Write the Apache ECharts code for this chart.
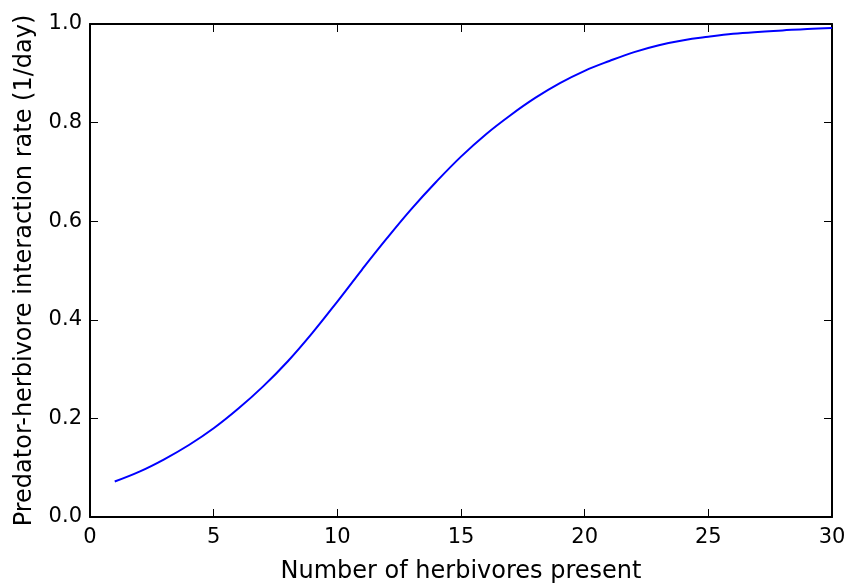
<!DOCTYPE html>
<html>
<head>
<meta charset="utf-8">
<title>Predator-herbivore interaction rate</title>
<script src="https://cdn.jsdelivr.net/npm/echarts@6/dist/echarts.min.js"></script>
<style>
	html, body { margin: 0; padding: 0; background: #fff; }
	#chart_main_id { width: 847px; height: 585px; }
</style>
</head>
<body>
<div id="chart_main_id"></div>
<script>
// x: number of herbivores
var herbivores = [1, 2, 3, 4, 5, 6, 7, 8, 9, 10, 11, 12, 13, 14, 15,
	16, 17, 18, 19, 20, 21, 22, 23, 24, 25, 26, 27, 28, 29, 30];
// y: interaction rate (1/day)
var rates = [0.072, 0.092, 0.117, 0.146, 0.180, 0.220, 0.265, 0.316, 0.374, 0.437,
	0.502, 0.565, 0.625, 0.680, 0.731, 0.776, 0.815, 0.850, 0.880, 0.905,
	0.925, 0.943, 0.957, 0.967, 0.974, 0.980, 0.984, 0.987, 0.990, 0.992];
var xTicks = [0, 5, 10, 15, 20, 25, 30];
var yTicks = [0.0, 0.2, 0.4, 0.6, 0.8, 1.0];

var xTitle = "Number of herbivores present";
var yTitle = "Predator-herbivore interaction rate (1/day)";

var fontName = "DejaVu Sans";

function buildPoints() {
	var pts = [];
	for (var i = 0; i < herbivores.length; i++) {
		pts.push([herbivores[i], rates[i]]);
	}
	return pts;
}

// 坐标轴公共设置
function frameAxis(showLabel, ticks, digits) {
	return {
		type : 'value',
		min : ticks[0],
		max : ticks[ticks.length - 1],
		interval : ticks[1] - ticks[0],
		axisLine : { show : true, onZero : false, lineStyle : { color : '#000', width : 2 } },
		axisTick : { show : true, inside : true, length : 8, lineStyle : { color : '#000', width : 1 } },
		splitLine : { show : false },
		axisLabel : {
			show : showLabel,
			color : '#000',
			fontFamily : fontName,
			fontSize : 21,
			margin : 8,
			formatter : function(v) { return v.toFixed(digits); }
		}
	};
}

function drawChart() {
	var myChart = echarts.init(document.getElementById("chart_main_id"), null, { renderer : 'canvas' });

	var xBottom = frameAxis(true, xTicks, 0);
	xBottom.position = 'bottom';
	xBottom.axisLabel.margin = 10;
	xBottom.name = xTitle;
	xBottom.nameLocation = 'middle';
	xBottom.nameGap = 43;
	xBottom.nameTextStyle = { color : '#000', fontFamily : fontName, fontSize : 24 };

	var xTop = frameAxis(false, xTicks, 0);
	xTop.position = 'top';

	var yLeft = frameAxis(true, yTicks, 1);
	yLeft.position = 'left';
	yLeft.name = yTitle;
	yLeft.nameLocation = 'middle';
	yLeft.nameGap = 53;
	yLeft.nameTextStyle = { color : '#000', fontFamily : fontName, fontSize : 24 };

	var yRight = frameAxis(false, yTicks, 1);
	yRight.position = 'right';

	var option = {
		backgroundColor : '#fff',
		animation : false,
		grid : { left : 90, right : 15, top : 24, bottom : 68, containLabel : false, outerBoundsMode : 'none' },
		xAxis : [ xBottom, xTop ],
		yAxis : [ yLeft, yRight ],
		series : [ {
			type : 'line',
			xAxisIndex : 0,
			yAxisIndex : 0,
			data : buildPoints(),
			smooth : 0.4,
			showSymbol : false,
			lineStyle : { color : '#0000ff', width : 2 }
		} ]
	};
	myChart.setOption(option, true);
}

drawChart();
</script>
</body>
</html>
